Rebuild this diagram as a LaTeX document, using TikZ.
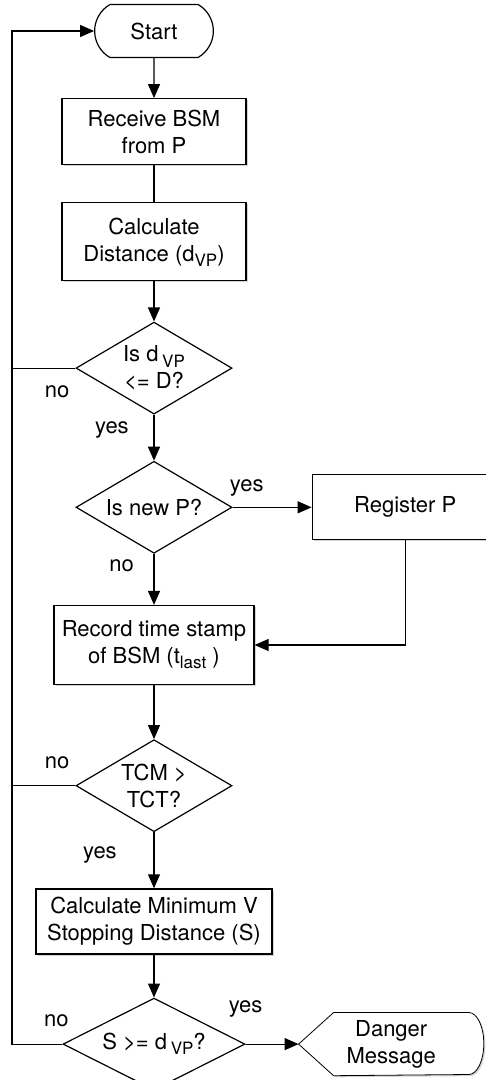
\documentclass[tikz,border=0pt]{standalone}
\usepackage{fontspec}
\setmainfont{TeX Gyre Heros}
\usetikzlibrary{positioning,shapes.geometric,shapes.misc,arrows.meta,shadows,backgrounds}
\newcommand{\subtxt}[1]{\raisebox{-0.45ex}{\fontsize{8.5}{10}\selectfont #1}}

\begin{document}
\begin{tikzpicture}[
    font=\fontsize{11}{13.5}\selectfont,
    line width=0.6pt,
    box/.style={rectangle, draw, fill=white, align=center, inner sep=2pt, drop shadow={shadow xshift=0.8pt, shadow yshift=-0.8pt, opacity=0.35}},
    decision/.style={diamond, draw, fill=white, align=center, inner sep=0pt, aspect=1.7, minimum width=78pt, minimum height=46pt},
    terminal/.style={rounded rectangle, rounded rectangle arc length=120, draw, fill=white, minimum width=66pt, minimum height=26.5pt},
    arrow/.style={-{Triangle[length=7pt, width=6pt]}}
]
\useasboundingbox (0,0) rectangle (243pt,-540pt);

% INICIO
\node[terminal] (A) at (77pt,-15.5pt) {Start};
\node[box, minimum width=92pt, minimum height=33pt, below=20pt of A] (B) {Receive BSM\\from P};
\node[box, minimum width=92pt, minimum height=39pt, below=18.5pt of B] (C) {Calculate\\Distance (d\subtxt{VP})};
\node[decision, below=20pt of C] (D) {Is d\,\subtxt{VP}\\<= D?};

% REGISTRO
\node[decision, below=23pt of D] (E) {Is new P?};
\node[box, minimum width=93pt, minimum height=32.5pt, right=39.5pt of E] (F) {Register P};
\node[box, minimum width=100pt, minimum height=39.5pt, below=25.5pt of E] (G) {Record time stamp\\of BSM (t\subtxt{last} )};

% PELIGRO
\node[decision, below=27pt of G] (H) {TCM >\\TCT?};
\node[box, minimum width=118pt, minimum height=32.5pt, below=28pt of H] (I) {Calculate Minimum V\\Stopping Distance (S)};
\node[decision, minimum width=91pt, below=21.5pt of I] (J) {S >= d\,\subtxt{VP}?};
\node[minimum width=92pt, minimum height=31pt, align=center, right=26.5pt of J] (K) {Danger\\Message};
\begin{scope}[on background layer]
\draw[fill=white, drop shadow={shadow xshift=0.8pt, shadow yshift=-0.8pt, opacity=0.35}] (K.west) -- ([xshift=17.5pt]K.north west) -- ([xshift=-7.5pt]K.north east)
    arc[start angle=90, end angle=-90, x radius=7.5pt, y radius=15.5pt] -- ([xshift=17.5pt]K.south west) -- cycle;
\end{scope}

% lazo de retorno
\coordinate (L) at (6pt,0);

% Conexiones
\draw[arrow] (A) -- (B);
\draw (B) -- (C);
\draw[arrow] (C) -- (D);
\draw[arrow] (D) -- node[pos=0.33, left=9pt] {yes} (E);
\draw (D.west) -- node[pos=0.29, below=5pt] {no} (D.west -| L);
\draw[arrow] (E) -- node[pos=0.18, above=2pt] {yes} (F);
\draw[arrow] (E) -- node[pos=0.24, left=6.5pt] {no} (G);
\draw[arrow] (F) |- (G);
\draw[arrow] (G) -- (H);
\draw (H.west) -- node[pos=0.29, above=5pt] {no} (H.west -| L);
\draw[arrow] (H) -- node[pos=0.41, left=15pt] {yes} (I);
\draw[arrow] (I) -- (J);
\draw[arrow] (J) -- node[pos=0, above=10pt] {yes} (K);
\draw[arrow] (J.west) -- node[pos=0.12, above=5pt] {no} (J.west -| L) |- (A);

\end{tikzpicture}
\end{document}
